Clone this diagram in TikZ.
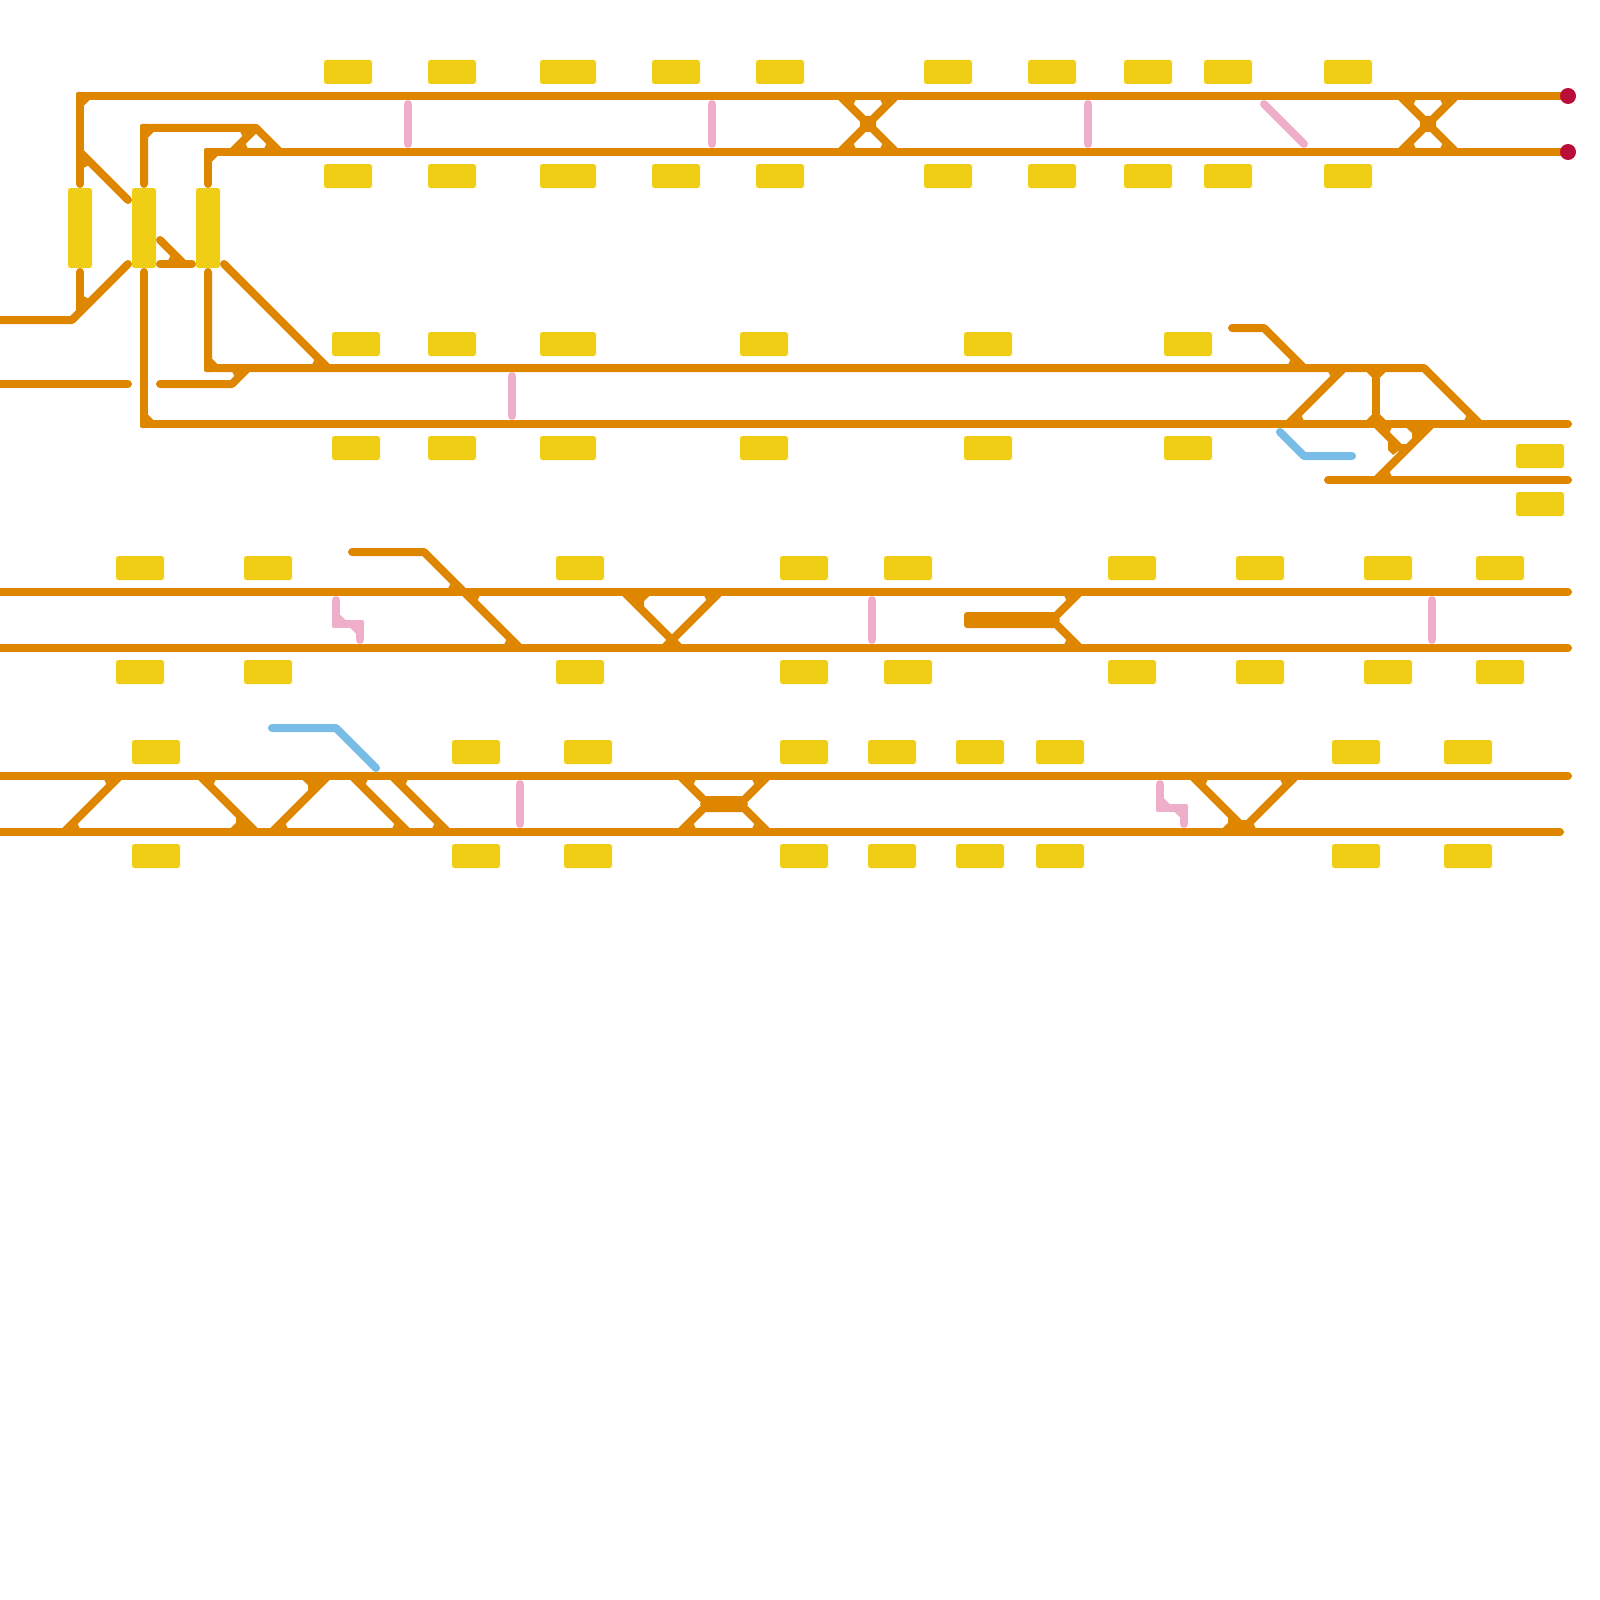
\documentclass[tikz,border=0pt]{standalone}
\definecolor{trkc}{HTML}{DF8600}
\definecolor{sigc}{HTML}{F0CE15}
\definecolor{pinkc}{HTML}{EFAEC9}
\definecolor{bluec}{HTML}{78BCE8}
\definecolor{redc}{HTML}{B90E3A}
\tikzset{
  trk/.style={draw=trkc,line width=8pt,line cap=round,line join=round},
  pnk/.style={draw=pinkc,line width=8pt,line cap=round,line join=round},
  blu/.style={draw=bluec,line width=8pt,line cap=round,line join=round},
  sig/.style={fill=sigc,rounded corners=2.5pt},
  endpt/.style={fill=redc}
}
% wedge at foot of a diagonal on a horizontal track
\newcommand{\WW}[4]{\fill[trkc,shift={(#1,#2)},xscale=#3,yscale=#4] (9,3.5)--(15.66,4)--(13.66,8)--cycle;}
% vertical-side wedge
\newcommand{\VV}[4]{\fill[trkc,shift={(#1,#2)},xscale=#3,yscale=#4] (3.5,9)--(4,15.66)--(8,13.66)--cycle;}
% right-angle corner
\newcommand{\CC}[5][trkc]{\fill[#1,shift={(#2,#3)},xscale=#4,yscale=#5] (3.5,3.5)--(9.5,3.5)--(9.5,4)--(4,9.5)--(3.5,9.5)--cycle;}
% outer corner of a bend, less rounded than the round join
\newcommand{\OC}[5][trkc]{\fill[#1,shift={(#2,#3)},xscale=#4,yscale=#5,rounded corners=2pt] (-4,4)--(-4,-4)--(4,-4)--(4,4)--cycle;}
% larger bump at a foot
\newcommand{\BB}[4]{\fill[trkc,shift={(#1,#2)},xscale=#3,yscale=#4] (25.3,3.5)--(25.3,4)--(20,9)--(20,15)--(9,4)--(9,3.5)--cycle;}
% horizontal signal block
\newcommand{\SG}[3]{\fill[sig] (#1,#2) rectangle ++(#3,24);}
% X crossing between tracks
\newcommand{\XX}[2]{%
  \draw[trk] (#1-28,#2-28)--(#1+28,#2+28) (#1+28,#2-28)--(#1-28,#2+28);
  \fill[trkc] (#1-4,#2-8)--(#1+4,#2-8)--(#1+8,#2-4)--(#1+8,#2+4)--(#1+4,#2+8)--(#1-4,#2+8)--(#1-8,#2+4)--(#1-8,#2-4)--cycle;
  \WW{#1-28}{#2-28}{1}{1}\WW{#1+28}{#2-28}{-1}{1}\WW{#1-28}{#2+28}{1}{-1}\WW{#1+28}{#2+28}{-1}{-1}}
\begin{document}
\begin{tikzpicture}[x=1pt,y=-1pt]
\useasboundingbox (0,0) rectangle (1600,1600);
% ---------- section 1 ----------
\foreach \a/\w in {324/48,428/48,540/56,652/48,756/48,924/48,1028/48,1124/48,1204/48,1324/48}{
  \SG{\a}{60}{\w}\SG{\a}{164}{\w}}
\draw[trk] (80,184)--(80,96)--(1568,96);
\draw[trk] (80,152)--(128,200);
\draw[trk] (144,184)--(144,128)--(256,128)--(280,152);
\draw[trk] (208,184)--(208,152)--(1568,152);
\draw[trk] (232,152)--(256,128);
\CC{80}{96}{1}{1}\CC{144}{128}{1}{1}\CC{208}{152}{1}{1}
\OC{80}{96}{1}{1}\OC{144}{128}{1}{1}\OC{208}{152}{1}{1}
\VV{80}{152}{1}{1}
\WW{232}{152}{1}{-1}\WW{256}{128}{-1}{1}\WW{280}{152}{-1}{-1}
\XX{868}{124}\XX{1428}{124}
\draw[pnk] (408,104)--(408,144);
\draw[pnk] (712,104)--(712,144);
\draw[pnk] (1088,104)--(1088,144);
\draw[pnk] (1264,104)--(1304,144);
\fill[endpt] (1568,96) circle[radius=8pt];
\fill[endpt] (1568,152) circle[radius=8pt];
% vertical signals
\fill[sig] (68,188) rectangle (92,268);
\fill[sig] (132,188) rectangle (156,268);
\fill[sig] (196,188) rectangle (220,268);
% left throat
\draw[trk] (0,320)--(72,320)--(128,264);
\draw[trk] (80,272)--(80,312);
\CC{80}{320}{-1}{-1}\VV{80}{312}{1}{-1}
\draw[trk] (160,240)--(184,264);
\draw[trk] (160,264)--(192,264);
\WW{184}{264}{-1}{-1}
\draw[trk] (0,384)--(128,384);
% ---------- section 2 ----------
\foreach \a/\w in {332/48,428/48,540/56,740/48,964/48,1164/48}{
  \SG{\a}{332}{\w}\SG{\a}{436}{\w}}
\draw[trk] (144,272)--(144,424)--(1568,424);
\draw[trk] (208,272)--(208,368)--(1424,368)--(1480,424);
\draw[trk] (224,264)--(328,368);
\draw[trk] (160,384)--(232,384)--(248,368);
\CC{144}{424}{1}{-1}\CC{208}{368}{1}{-1}
\OC{144}{424}{1}{-1}\OC{208}{368}{1}{-1}
\WW{328}{368}{-1}{-1}\WW{248}{368}{-1}{1}
\draw[pnk] (512,376)--(512,416);
\draw[trk] (1232,328)--(1264,328)--(1304,368);
\WW{1304}{368}{-1}{-1}
\draw[trk] (1288,424)--(1344,368);
\WW{1344}{368}{-1}{1}\WW{1288}{424}{1}{-1}
\draw[trk] (1376,368)--(1376,424);
\CC{1376}{368}{1}{1}\CC{1376}{368}{-1}{1}\CC{1376}{424}{1}{-1}\CC{1376}{424}{-1}{-1}
\WW{1480}{424}{-1}{-1}
\draw[trk] (1328,480)--(1568,480);
\draw[trk] (1376,480)--(1432,424);
\WW{1376}{480}{1}{-1}
\BB{1432}{424}{-1}{1}
\draw[trk] (1376,424)--(1400,448);
\WW{1376}{424}{1}{1}
\fill[trkc] (1388,441)--(1388,450)--(1393,455)--(1402,448)--cycle;
\fill[trkc] (1401.66,444)--(1406.34,444)--(1404,448)--cycle;
\draw[blu] (1280,432)--(1304,456)--(1352,456);
\SG{1516}{444}{48}\SG{1516}{492}{48}
% ---------- section 3 ----------
\foreach \a in {116,244,556,780,884,1108,1236,1364,1476}{
  \SG{\a}{556}{48}\SG{\a}{660}{48}}
\draw[trk] (0,592)--(1568,592);
\draw[trk] (0,648)--(1568,648);
\draw[trk] (352,552)--(424,552)--(464,592)--(520,648);
\WW{464}{592}{-1}{-1}\WW{464}{592}{1}{1}\WW{520}{648}{-1}{-1}
\draw[trk] (624,592)--(680,648);
\draw[trk] (720,592)--(664,648);
\BB{624}{592}{1}{1}\WW{720}{592}{-1}{1}\WW{680}{648}{-1}{-1}\WW{664}{648}{1}{-1}
\draw[pnk] (336,600)--(336,624)--(360,624)--(360,640);
\CC[pinkc]{336}{624}{1}{-1}\CC[pinkc]{360}{624}{-1}{1}
\OC[pinkc]{336}{624}{1}{-1}\OC[pinkc]{360}{624}{-1}{1}
\draw[pnk] (872,600)--(872,640);
\draw[pnk] (1432,600)--(1432,640);
\fill[trkc,rounded corners=3pt] (964,612) rectangle (1056,628);
\fill[trkc] (1050,612)--(1054,612)--(1060,620)--(1054,628)--(1050,628)--cycle;
\draw[trk] (1080,592)--(1052,620)--(1080,648);
\WW{1080}{592}{-1}{1}\WW{1080}{648}{-1}{-1}
% ---------- section 4 ----------
\foreach \a in {132,452,564,780,868,956,1036,1332,1444}{
  \SG{\a}{740}{48}\SG{\a}{844}{48}}
\draw[trk] (0,776)--(1568,776);
\draw[trk] (0,832)--(1560,832);
\draw[trk] (64,832)--(120,776);
\WW{120}{776}{-1}{1}\WW{64}{832}{1}{-1}
\draw[trk] (200,776)--(256,832);
\WW{200}{776}{1}{1}\BB{256}{832}{-1}{-1}
\draw[trk] (272,832)--(328,776);
\WW{272}{832}{1}{-1}\BB{328}{776}{-1}{1}
\draw[trk] (352,776)--(408,832);
\WW{352}{776}{1}{1}\WW{408}{832}{-1}{-1}
\draw[trk] (392,776)--(448,832);
\WW{392}{776}{1}{1}\WW{448}{832}{-1}{-1}
\draw[blu] (272,728)--(336,728)--(376,768);
\draw[pnk] (520,784)--(520,824);
\draw[trk] (680,776)--(708,804)--(680,832);
\draw[trk] (768,776)--(740,804)--(768,832);
\fill[trkc] (700,804)--(705,796)--(743,796)--(748,804)--(743,812)--(705,812)--cycle;
\WW{680}{776}{1}{1}\WW{680}{832}{1}{-1}\WW{768}{776}{-1}{1}\WW{768}{832}{-1}{-1}
\draw[pnk] (1160,784)--(1160,808)--(1184,808)--(1184,824);
\CC[pinkc]{1160}{808}{1}{-1}\CC[pinkc]{1184}{808}{-1}{1}
\OC[pinkc]{1160}{808}{1}{-1}\OC[pinkc]{1184}{808}{-1}{1}
\draw[trk] (1192,776)--(1248,832);
\draw[trk] (1296,776)--(1240,832);
\WW{1192}{776}{1}{1}\WW{1296}{776}{-1}{1}
\BB{1248}{832}{-1}{-1}\WW{1240}{832}{1}{-1}
\fill[trkc] (1241.66,820)--(1246.34,820)--(1244,824)--cycle;
\end{tikzpicture}
\end{document}
